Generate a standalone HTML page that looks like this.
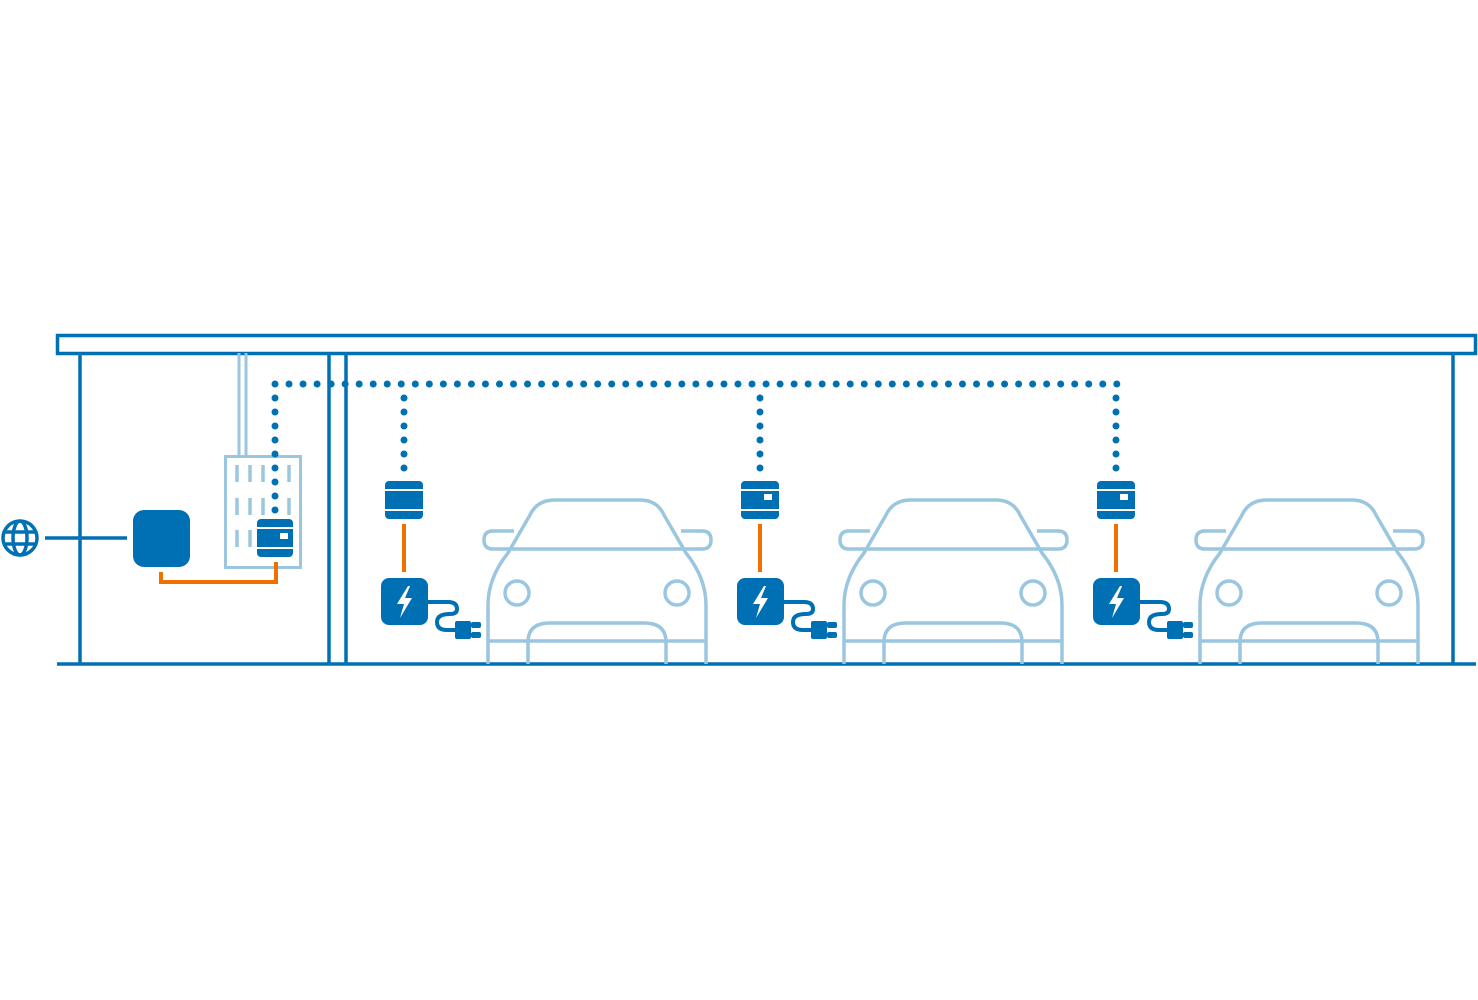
<!DOCTYPE html>
<html><head><meta charset="utf-8"><style>html,body{margin:0;padding:0;background:#fff}svg{display:block}</style></head>
<body>
<svg width="1478" height="1000" viewBox="0 0 1478 1000" xmlns="http://www.w3.org/2000/svg">
<defs>
<g id="station">
  <!-- dotted drop -->
  <line x1="404" y1="398" x2="404" y2="470" stroke="#0070b4" stroke-width="7" stroke-linecap="round" stroke-dasharray="0 14"/>
  <!-- meter module -->
  <rect x="385" y="481" width="38" height="38" rx="4" fill="#0070b4"/>
  <line x1="385" y1="490" x2="423" y2="490" stroke="#fff" stroke-width="2"/>
  <line x1="385" y1="510" x2="423" y2="510" stroke="#fff" stroke-width="2"/>
  <!-- orange -->
  <line x1="404" y1="524" x2="404" y2="572" stroke="#ee7100" stroke-width="4"/>
  <!-- charger -->
  <rect x="381" y="578" width="47" height="47" rx="8" fill="#0070b4"/>
  <path d="M408,586 L397,604 L404,604 L400,618 L412,598 L405,598 L410,586 Z" fill="#fff"/>
  <path d="M428,602 H448 Q457,602 457,609 Q457,614 450,614 Q437,614 437,622 Q437,630 447,630 H456" fill="none" stroke="#0070b4" stroke-width="4"/>
  <rect x="455" y="621" width="16" height="18" rx="2" fill="#0070b4"/>
  <rect x="471" y="622" width="10" height="6" rx="2" fill="#0070b4"/>
  <rect x="471" y="632" width="10" height="6" rx="2" fill="#0070b4"/>
  <!-- car -->
  <g fill="none" stroke="#9ac6e0" stroke-width="3.5">
    <path d="M488,664 V605 Q488,578 508,553 L530,515 Q537,500 555,500 H640 Q657,500 664,515 L686,553 Q706,578 706,605 V664"/>
    <line x1="511" y1="549" x2="684" y2="549"/>
    <path d="M514,531 H493 Q484,531 484,540 Q484,549 493,549 H511"/>
    <path d="M681,531 H702 Q711,531 711,540 Q711,549 702,549 H684"/>
    <circle cx="517" cy="593" r="12"/>
    <circle cx="677" cy="593" r="12"/>
    <line x1="488" y1="641" x2="706" y2="641"/>
    <path d="M528,664 V642 Q528,623 550,623 H644 Q666,623 666,642 V664"/>
  </g>
</g>
</defs>

<!-- roof -->
<rect x="57.5" y="335.5" width="1418" height="18" fill="none" stroke="#0070b4" stroke-width="3.5"/>
<!-- walls -->
<line x1="80" y1="353" x2="80" y2="664" stroke="#0070b4" stroke-width="3.5"/>
<line x1="1453" y1="353" x2="1453" y2="664" stroke="#0070b4" stroke-width="3.5"/>
<line x1="329" y1="353" x2="329" y2="664" stroke="#0070b4" stroke-width="3.5"/>
<line x1="346" y1="353" x2="346" y2="664" stroke="#0070b4" stroke-width="3.5"/>
<line x1="57" y1="664" x2="1476" y2="664" stroke="#0070b4" stroke-width="3.5"/>

<!-- globe -->
<g fill="none" stroke="#0070b4" stroke-width="3.5">
  <circle cx="20" cy="538" r="17"/>
  <ellipse cx="20" cy="538" rx="7" ry="17"/>
  <line x1="3" y1="532" x2="37" y2="532"/>
  <line x1="3" y1="544" x2="37" y2="544"/>
</g>
<line x1="45" y1="538" x2="127" y2="538" stroke="#0070b4" stroke-width="3.5"/>
<rect x="133" y="510" width="57" height="57" rx="11" fill="#0070b4"/>

<!-- panel -->
<line x1="239" y1="353" x2="239" y2="456" stroke="#9ac6e0" stroke-width="3"/>
<line x1="246" y1="353" x2="246" y2="456" stroke="#9ac6e0" stroke-width="3"/>
<rect x="225.5" y="456.5" width="75" height="111" fill="none" stroke="#9ac6e0" stroke-width="3"/>
<g stroke="#9ac6e0" stroke-width="3.5">
  <line x1="237" y1="465" x2="237" y2="482"/><line x1="250" y1="465" x2="250" y2="482"/><line x1="263" y1="465" x2="263" y2="482"/><line x1="289" y1="465" x2="289" y2="482"/>
  <line x1="237" y1="498" x2="237" y2="515"/><line x1="250" y1="498" x2="250" y2="515"/><line x1="263" y1="498" x2="263" y2="515"/><line x1="289" y1="498" x2="289" y2="515"/>
  <line x1="237" y1="530" x2="237" y2="547"/><line x1="250" y1="530" x2="250" y2="547"/>
</g>
<rect x="257" y="519" width="36" height="38" rx="4" fill="#0070b4"/>
<line x1="257" y1="528" x2="293" y2="528" stroke="#fff" stroke-width="2"/>
<line x1="257" y1="548" x2="293" y2="548" stroke="#fff" stroke-width="2"/>
<rect x="280" y="533" width="8" height="6" fill="#fff"/>
<!-- orange router link -->
<path d="M161,572 V582 H276 V562" fill="none" stroke="#ee7100" stroke-width="4"/>

<!-- dotted bus -->
<line x1="275" y1="384" x2="1117" y2="384" stroke="#0070b4" stroke-width="7" stroke-linecap="round" stroke-dasharray="0 14.03"/>
<line x1="275" y1="398" x2="275" y2="512" stroke="#0070b4" stroke-width="7" stroke-linecap="round" stroke-dasharray="0 14"/>

<use href="#station"/>
<use href="#station" x="356"/>
<use href="#station" x="712"/>
<!-- ethernet marks on modules 2,3 -->
<rect x="764" y="494" width="8" height="6" fill="#fff"/>
<rect x="1120" y="494" width="8" height="6" fill="#fff"/>
</svg>
</body></html>
